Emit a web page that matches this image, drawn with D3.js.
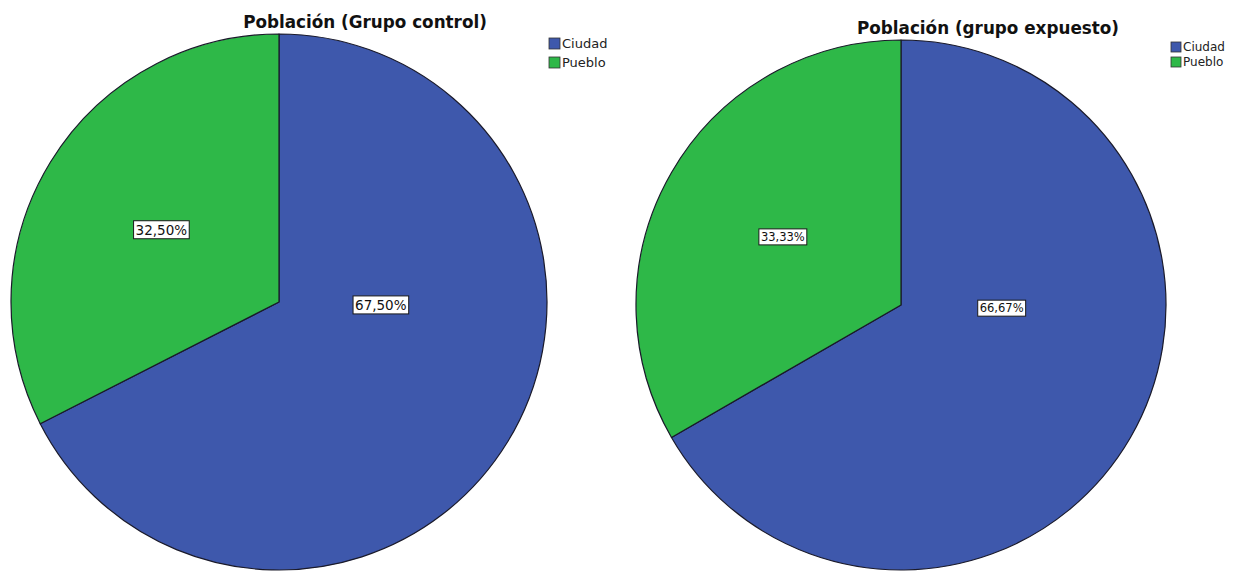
<!DOCTYPE html>
<html>
<head>
<meta charset="utf-8">
<script src="https://cdn.jsdelivr.net/npm/d3@7"></script>
<style>
  html, body { margin: 0; padding: 0; background: #ffffff; }
  svg { display: block; }
</style>
</head>
<body>
<svg id="chart" width="1241" height="574"></svg>
<script>
// Category names and slice shares (percent) for each group
const categories = ["Ciudad", "Pueblo"];
const controlValues = [67.50, 32.50];
const exposedValues = [66.67, 33.33];
const titles = ["Población (Grupo control)", "Población (grupo expuesto)"];

const colors = d3.scaleOrdinal().domain(categories).range(["#3e58ac", "#2eb848"]);
const fmt = v => d3.format(".2f")(v).replace(".", ",") + "%";

const svg = d3.select("#chart");

// Panel layout: centre, radius, title, legend and label sizes
const panels = [
  { values: controlValues, title: titles[0], cx: 279, cy: 302, r: 268,
    titleX: 365, titleY: 28, titleSize: 16.8,
    legendX: 549, legendY: 38, sw: 11, legendStep: 19, legendSize: 13,
    labelSize: 13.5 },
  { values: exposedValues, title: titles[1], cx: 901, cy: 305, r: 265,
    titleX: 988, titleY: 34, titleSize: 16.8,
    legendX: 1171, legendY: 42, sw: 10, legendStep: 15, legendSize: 12,
    labelSize: 11.5 }
];

panels.forEach(p => {
  const g = svg.append("g").attr("transform", `translate(${p.cx},${p.cy})`);
  const pie = d3.pie().sort(null).value(d => d.v);
  const arcs = pie(categories.map((c, i) => ({ c, v: p.values[i] })));
  const arc = d3.arc().innerRadius(0).outerRadius(p.r);

  g.selectAll("path.slice").data(arcs).join("path")
    .attr("class", "slice")
    .attr("d", arc)
    .attr("fill", d => colors(d.data.c))
    .attr("stroke", "#1a1a2a")
    .attr("stroke-width", 1.2)
    .attr("stroke-linejoin", "round");

  // Value labels: minor slices on their bisector, the major slice toward 3 o'clock
  const labels = g.selectAll("g.lbl").data(arcs).join("g").attr("class", "lbl")
    .attr("transform", d => {
      const span = d.endAngle - d.startAngle;
      const major = span > Math.PI;
      const a = major ? Math.PI / 2 + 0.03 : (d.startAngle + d.endAngle) / 2;
      const rr = p.r * (major ? 0.38 : 0.515);
      return `translate(${rr * Math.sin(a)},${-rr * Math.cos(a)})`;
    });
  labels.each(function(d) {
    const sel = d3.select(this);
    const t = sel.append("text")
      .attr("text-anchor", "middle")
      .attr("dy", "0.36em")
      .attr("font-family", "'DejaVu Sans', sans-serif")
      .attr("font-size", p.labelSize)
      .attr("fill", "#111")
      .text(fmt(d.data.v));
    const bb = t.node().getBBox();
    sel.insert("rect", "text")
      .attr("x", bb.x - 2).attr("y", bb.y - 1)
      .attr("width", bb.width + 4).attr("height", bb.height + 2)
      .attr("fill", "#ffffff")
      .attr("stroke", "#1a1a1a")
      .attr("stroke-width", 1);
  });

  svg.append("text")
    .attr("x", p.titleX).attr("y", p.titleY)
    .attr("text-anchor", "middle")
    .attr("font-family", "'DejaVu Sans', sans-serif")
    .attr("font-weight", "bold")
    .attr("font-size", p.titleSize)
    .attr("fill", "#111")
    .text(p.title);

  const leg = svg.append("g").attr("transform", `translate(${p.legendX},${p.legendY})`);
  const items = leg.selectAll("g").data(categories).join("g")
    .attr("transform", (d, i) => `translate(0,${i * p.legendStep})`);
  items.append("rect")
    .attr("width", p.sw).attr("height", p.sw)
    .attr("fill", d => colors(d))
    .attr("stroke", "#333").attr("stroke-width", 0.8);
  items.append("text")
    .attr("x", p.sw + 2).attr("y", p.sw / 2)
    .attr("dy", "0.36em")
    .attr("font-family", "'DejaVu Sans', sans-serif")
    .attr("font-size", p.legendSize)
    .attr("fill", "#222")
    .text(d => d);
});
</script>
</body>
</html>
